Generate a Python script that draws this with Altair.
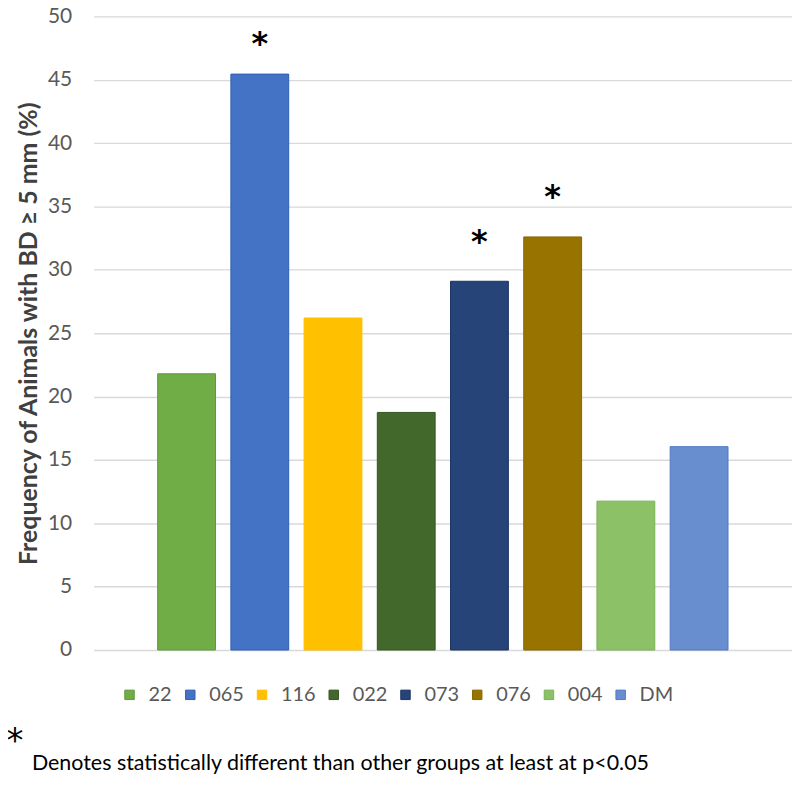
import altair as alt
import pandas as pd

groups = ["22", "065", "116", "022", "073", "076", "004", "DM"]
values = [21.8, 45.45, 26.2, 18.75, 29.1, 32.6, 11.75, 16.05]
fills = ["#70AD47", "#4472C4", "#FFC000", "#43682B", "#264478", "#997300", "#8CC168", "#698ED0"]
strokes = ["#5E9A38", "#2F5EB5", "#FFC000", "#35561F", "#1B3463", "#876600", "#78B254", "#4F79C4"]

star_groups = ["065", "073", "076"]
star_values = [47.8, 32.2, 35.75]

y_ticks = [0, 5, 10, 15, 20, 25, 30, 35, 40, 45, 50]
y_title = "Frequency of Animals with BD \u2265 5 mm (%)"
footnote_star = "*"
footnote_text = "Denotes statistically different than other groups at least at p<0.05"

df = pd.DataFrame({"group": groups, "value": values})
stars = pd.DataFrame({"group": star_groups, "value": star_values, "label": ["*"] * len(star_groups)})
notes = pd.DataFrame({"star": [footnote_star], "text": [footnote_text]})

FONT = "Lato"

x_enc = alt.X("group:N", sort=groups, axis=None,
              scale=alt.Scale(domain=groups, paddingInner=0.21, paddingOuter=0.874))

bars = alt.Chart(df).mark_bar(strokeWidth=1).encode(
    x=x_enc,
    y=alt.Y("value:Q", scale=alt.Scale(domain=[0, 50], nice=False),
            axis=alt.Axis(values=y_ticks, title=y_title, grid=True, gridColor="#D9D9D9",
                          gridWidth=1.3, domain=False, ticks=False, labelPadding=22,
                          labelFont=FONT, labelFontSize=21, labelColor="#595959",
                          titleFont=FONT, titleFontSize=25, titleFontWeight="bold",
                          titleColor="#404040", titlePadding=6)),
    color=alt.Color("group:N", sort=groups,
                    scale=alt.Scale(domain=groups, range=fills),
                    legend=alt.Legend(title=None, orient="none", direction="horizontal",
                                      legendX=26, legendY=671, padding=0,
                                      symbolType="square", symbolSize=90, symbolStrokeWidth=1,
                                      labelFont=FONT, labelFontSize=20, labelColor="#595959",
                                      labelOffset=9, columnPadding=8, columns=8)),
    stroke=alt.Stroke("group:N", sort=groups,
                      scale=alt.Scale(domain=groups, range=strokes), legend=None),
)

star_marks = alt.Chart(stars).mark_text(fontSize=32, font="DejaVu Sans", fontWeight="bold",
                                        color="#000000", baseline="middle").encode(
    x=x_enc,
    y=alt.Y("value:Q"),
    text="label:N",
)

note_star = alt.Chart(notes).mark_text(fontSize=34, font="DejaVu Sans", color="#000000",
                                       align="center", baseline="middle").encode(
    x=alt.value(-79), y=alt.value(728), text="star:N")

note_text = alt.Chart(notes).mark_text(fontSize=21.5, font=FONT, color="#000000",
                                       align="left", baseline="middle").encode(
    x=alt.value(-62), y=alt.value(750), text="text:N")

chart = alt.layer(bars, star_marks, note_star, note_text).properties(
    width=701, height=636,
    autosize=alt.AutoSizeParams(type="none"),
    padding={"left": 86, "top": 7, "right": 0, "bottom": 130},
).configure_view(stroke=None)

chart.save("out.html", embed_options={"renderer": "svg", "actions": False})
